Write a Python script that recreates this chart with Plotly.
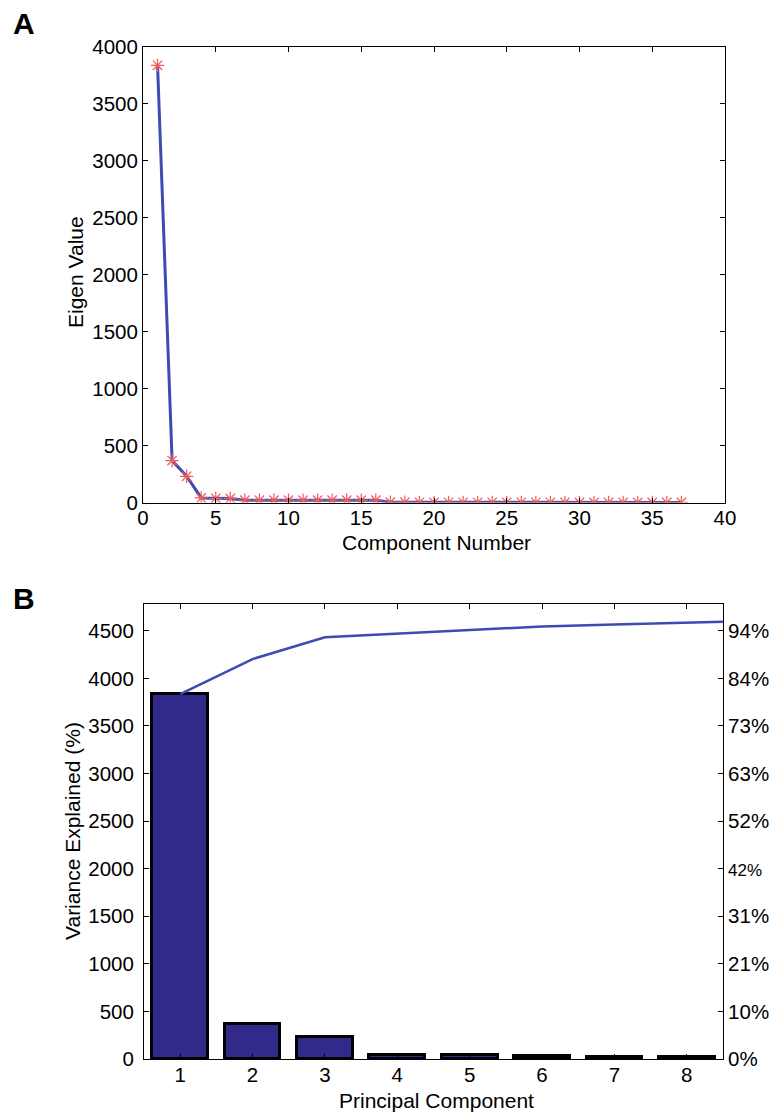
import plotly.graph_objects as go
import numpy as np

# Eigenvalues of the 37 principal components
component = list(range(1, 38))
eigen_value = [3835, 368, 230, 40, 37, 36,
               20, 20, 20, 20, 20, 20, 20, 20, 20, 20,
               3, 3, 2, 2, 2, 2, 2, 2, 2, 2, 2, 2, 2,
               1, 1, 1, 1, 1, 1, 1, 1]

# Pareto panel: first 8 components as bars, cumulative line (9th point clipped)
n_bars = 8
pc_labels = [str(i) for i in range(1, n_bars + 1)]

total = float(sum(eigen_value))
cumulative = np.cumsum(eigen_value)[:n_bars + 1]

left_ticks = list(range(0, 5000, 500))
pct_text = [f"{round(100 * v / total)}%" for v in left_ticks]
# the 42% label is set slightly smaller
pct_text = [f'<span style="font-size:17px">{t}</span>' if t == "42%" else t for t in pct_text]

W, H = 773, 1112
FONT = "Liberation Sans, Arial, Helvetica, sans-serif"
LINE_BLUE = "#3d4bb3"
BAR_FILL = "#322a8a"
STAR_RED = "#f25a5a"

fig = go.Figure()

# ---- Panel A: scree plot ----
fig.add_trace(go.Scatter(x=component, y=eigen_value, mode="lines",
                         line=dict(color=LINE_BLUE, width=3),
                         xaxis="x", yaxis="y", showlegend=False))
fig.add_trace(go.Scatter(x=component, y=eigen_value, mode="markers",
                         marker=dict(symbol="asterisk-open", size=11, color=STAR_RED,
                                     line=dict(color=STAR_RED, width=1.2)),
                         xaxis="x", yaxis="y", showlegend=False))

# ---- Panel B: Pareto chart ----
fig.add_trace(go.Bar(x=list(range(1, n_bars + 1)), y=eigen_value[:n_bars],
                     width=0.77,
                     marker=dict(color=BAR_FILL, line=dict(color="black", width=3)),
                     xaxis="x2", yaxis="y2", showlegend=False))
fig.add_trace(go.Scatter(x=list(range(1, n_bars + 2)), y=cumulative, mode="lines",
                         line=dict(color=LINE_BLUE, width=2.5),
                         xaxis="x2", yaxis="y2", showlegend=False, cliponaxis=True))
# percent axis carrier
fig.add_trace(go.Scatter(x=[1], y=[0], mode="markers", marker=dict(opacity=0),
                         xaxis="x2", yaxis="y3", showlegend=False, hoverinfo="skip"))

TICK_SIZE = 20.5
axis_common = dict(showline=True, linecolor="black", linewidth=1,
                   ticks="inside", ticklen=5, tickcolor="black",
                   showgrid=False, zeroline=False, automargin=False,
                   tickfont=dict(family=FONT, size=TICK_SIZE, color="black"))

def px_x(a, b):
    return [a / W, b / W]

def px_y(top, bottom):
    return [1 - bottom / H, 1 - top / H]

fig.update_layout(
    template="none",
    width=W, height=H,
    margin=dict(l=0, r=0, t=0, b=0, autoexpand=False),
    paper_bgcolor="white", plot_bgcolor="white",
    bargap=0,
    xaxis=dict(**axis_common, domain=px_x(143, 725), range=[0, 40],
               tickvals=list(range(0, 45, 5)), mirror="ticks",
               anchor="y", ticklabelstandoff=-3),
    yaxis=dict(**axis_common, domain=px_y(46.5, 502.5), range=[0, 4000],
               tickvals=list(range(0, 4500, 500)), mirror="ticks",
               anchor="x", ticklabelstandoff=0),
    xaxis2=dict(**axis_common, domain=px_x(144, 723), range=[0.5, n_bars + 0.5],
                tickvals=list(range(1, n_bars + 1)), ticktext=pc_labels,
                mirror="ticks", anchor="y2", ticklabelstandoff=-3),
    yaxis2=dict(**axis_common, domain=px_y(604, 1059), range=[0, total],
                tickvals=left_ticks, mirror=True, anchor="x2",
                ticklabelstandoff=5),
    yaxis3=dict(**axis_common, overlaying="y2", side="right", range=[0, total],
                tickvals=left_ticks, ticktext=pct_text, anchor="x2",
                ticklabelstandoff=0),
)

title_font = dict(family=FONT, size=21, color="black")
annotations = [
    dict(text="<b>A</b>", x=11 / W, y=1 - 5 / H, xanchor="left", yanchor="top",
         font=dict(family=FONT, size=30, color="black")),
    dict(text="<b>B</b>", x=11 / W, y=1 - 580 / H, xanchor="left", yanchor="top",
         font=dict(family=FONT, size=30, color="black")),
    dict(text="Eigen Value", x=75 / W, y=1 - 272 / H, textangle=-90,
         xanchor="center", yanchor="middle", font=title_font),
    dict(text="Component Number", x=436 / W, y=1 - 542 / H,
         xanchor="center", yanchor="middle", font=title_font),
    dict(text="Variance Explained (%)", x=72 / W, y=1 - 831 / H, textangle=-90,
         xanchor="center", yanchor="middle", font=title_font),
    dict(text="Principal Component", x=436 / W, y=1 - 1100 / H,
         xanchor="center", yanchor="middle", font=title_font),
]
for a in annotations:
    a.update(xref="paper", yref="paper", showarrow=False)
fig.update_layout(annotations=annotations)

fig.write_html("out.html")
